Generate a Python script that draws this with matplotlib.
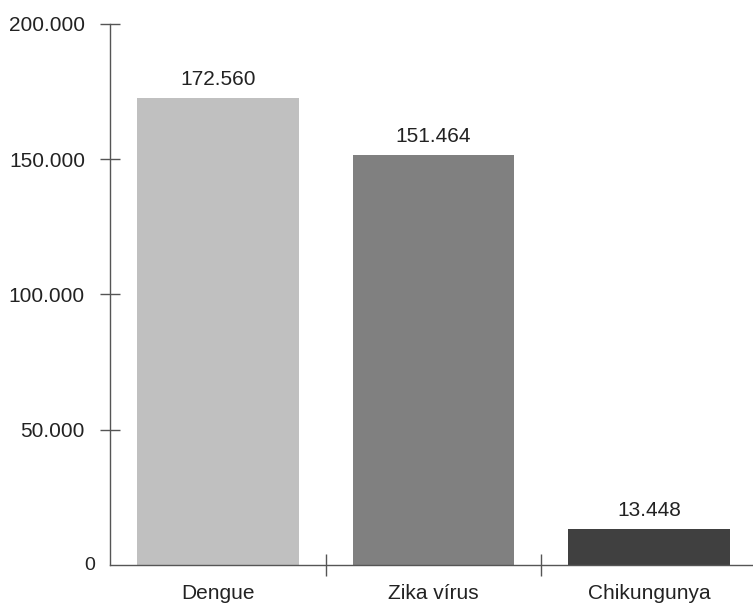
import matplotlib
matplotlib.use("Agg")
import matplotlib.pyplot as plt
import matplotlib.ticker as mticker
import matplotlib.transforms as mtransforms

categories = ["Dengue", "Zika vírus", "Chikungunya"]
cases = [172560, 151464, 13448]
bar_colors = ["#c0c0c0", "#808080", "#404040"]
y_ticks = [50000, 100000, 150000, 200000]

FS = 15


def fmt_thousands(v, _pos=None):
    return f"{int(round(v)):,}".replace(",", ".")


def main():
    plt.rcParams["font.family"] = ["Liberation Sans", "DejaVu Sans"]
    fig = plt.figure(figsize=(7.53, 6.03), dpi=100)
    W, H = 753, 603
    # axes: x from 110 px to 757 px, y from 565 px (zero) to 24 px (top)
    ax = fig.add_axes([110 / W, (H - 565) / H, 647 / W, 541 / H])

    xs = range(len(categories))
    ax.bar(xs, cases, width=0.75, color=bar_colors, zorder=2)
    lift = ax.transData + mtransforms.ScaledTranslation(0, 9 / 100, fig.dpi_scale_trans)
    for x, v in zip(xs, cases):
        ax.text(x, v, fmt_thousands(v), ha="center", va="bottom",
                fontsize=FS, color="#222222", transform=lift)

    ax.set_xlim(-0.5, 2.5)
    ax.set_ylim(0, 200000)

    for side in ("top", "right"):
        ax.spines[side].set_visible(False)
    for side in ("left", "bottom"):
        ax.spines[side].set_color("#555555")
        ax.spines[side].set_linewidth(1)
        ax.spines[side].set_clip_on(False)

    ax.set_yticks(y_ticks)
    ax.yaxis.set_major_formatter(mticker.FuncFormatter(fmt_thousands))
    ax.tick_params(axis="y", direction="inout", length=15, width=1,
                   color="#555555", labelsize=FS, labelcolor="#222222", pad=10.5)
    # the zero label sits without a tick, a little closer to the axis
    zero_tf = ax.get_yaxis_transform() + mtransforms.ScaledTranslation(-15 / 100, 0, fig.dpi_scale_trans)
    ax.text(0, 0, "0", ha="right", va="center", fontsize=FS - 1,
            color="#222222", transform=zero_tf)

    ax.set_xticks(list(xs))
    ax.set_xticklabels(categories)
    ax.set_xticks([0.5, 1.5], minor=True)
    ax.tick_params(axis="x", which="major", length=0, labelsize=FS,
                   labelcolor="#222222", pad=13.5)
    ax.tick_params(axis="x", which="minor", direction="inout", length=16,
                   width=1, color="#555555")

    fig.savefig("out.png", dpi=100)


if __name__ == "__main__":
    main()
